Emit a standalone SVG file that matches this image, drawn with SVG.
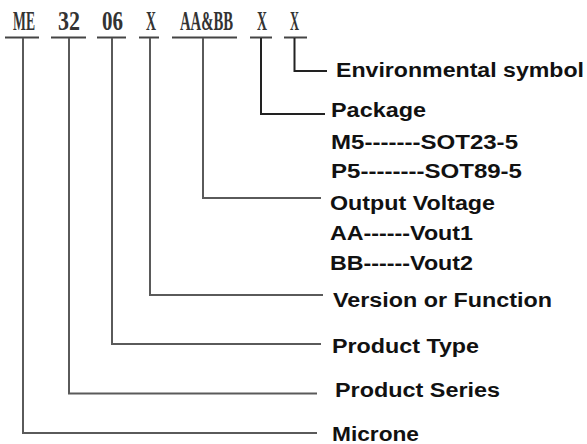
<svg xmlns="http://www.w3.org/2000/svg" width="587" height="444" viewBox="0 0 587 444">
<style>
.code{font-family:"Liberation Serif",serif;font-weight:bold;font-size:28px;fill:#333}
.lbl{font-family:"Liberation Sans",Arial,sans-serif;font-weight:bold;font-size:20px;fill:#111}
.ul{stroke:#444;stroke-width:2;fill:none}
.c{stroke:#5a5a5a;stroke-width:2;fill:none}
.cd{stroke:#222;stroke-width:2;fill:none}
</style>
<rect width="587" height="444" fill="#fff"/>
<g id="code-ME"><text class="code" transform="translate(13,30) scale(0.488,1)">ME</text><line class="ul" x1="5" y1="37.5" x2="39" y2="37.5"/></g>
<g id="code-32"><text class="code" transform="translate(58,30) scale(0.786,1)">32</text><line class="ul" x1="51" y1="37.5" x2="86" y2="37.5"/></g>
<g id="code-06"><text class="code" transform="translate(102,30) scale(0.75,1)">06</text><line class="ul" x1="97" y1="37.5" x2="126" y2="37.5"/></g>
<g id="code-X1"><text class="code" transform="translate(146,30) scale(0.495,1)">X</text><line class="ul" x1="139" y1="37.5" x2="159" y2="37.5"/></g>
<g id="code-AABB"><text class="code" transform="translate(180,30) scale(0.525,1)">AA&amp;BB</text><line class="ul" x1="172" y1="37.5" x2="237" y2="37.5"/></g>
<g id="code-X2"><text class="code" transform="translate(257,30) scale(0.495,1)">X</text><line class="ul" x1="250" y1="37.5" x2="272" y2="37.5"/></g>
<g id="code-X3"><text class="code" transform="translate(290,30) scale(0.446,1)">X</text><line class="ul" x1="284" y1="37.5" x2="307" y2="37.5"/></g>

<g id="connectors">
<polyline class="c" points="23,38 23,433 317,433"/>
<polyline class="c" points="69,38 69,393.5 317,393.5"/>
<polyline class="c" points="112,38 112,344 321,344"/>
<polyline class="c" points="150,38 150,295 323,295"/>
<polyline class="c" points="203,38 203,198 321,198"/>
<polyline class="cd" points="261,38 261,114 325,114"/>
<polyline class="cd" points="294.5,38 294.5,71 327,71"/>
</g>

<g id="env"><text class="lbl" x="336" y="77" textLength="248" lengthAdjust="spacingAndGlyphs">Environmental symbol</text></g>
<g id="package">
<text class="lbl" x="331" y="117" textLength="95" lengthAdjust="spacingAndGlyphs">Package</text>
<text class="lbl" x="331" y="149" textLength="187" lengthAdjust="spacingAndGlyphs">M5-------SOT23-5</text>
<text class="lbl" x="331" y="178" textLength="191" lengthAdjust="spacingAndGlyphs">P5--------SOT89-5</text>
</g>
<g id="voltage">
<text class="lbl" x="330" y="210" textLength="165" lengthAdjust="spacingAndGlyphs">Output Voltage</text>
<text class="lbl" x="330" y="240" textLength="143" lengthAdjust="spacingAndGlyphs">AA------Vout1</text>
<text class="lbl" x="330" y="270" textLength="143" lengthAdjust="spacingAndGlyphs">BB------Vout2</text>
</g>
<g id="version"><text class="lbl" x="333" y="307" textLength="219" lengthAdjust="spacingAndGlyphs">Version or Function</text></g>
<g id="type"><text class="lbl" x="332" y="353" textLength="147" lengthAdjust="spacingAndGlyphs">Product Type</text></g>
<g id="series"><text class="lbl" x="335" y="397" textLength="165" lengthAdjust="spacingAndGlyphs">Product Series</text></g>
<g id="microne"><text class="lbl" x="332" y="441" textLength="87" lengthAdjust="spacingAndGlyphs">Microne</text></g>
</svg>
